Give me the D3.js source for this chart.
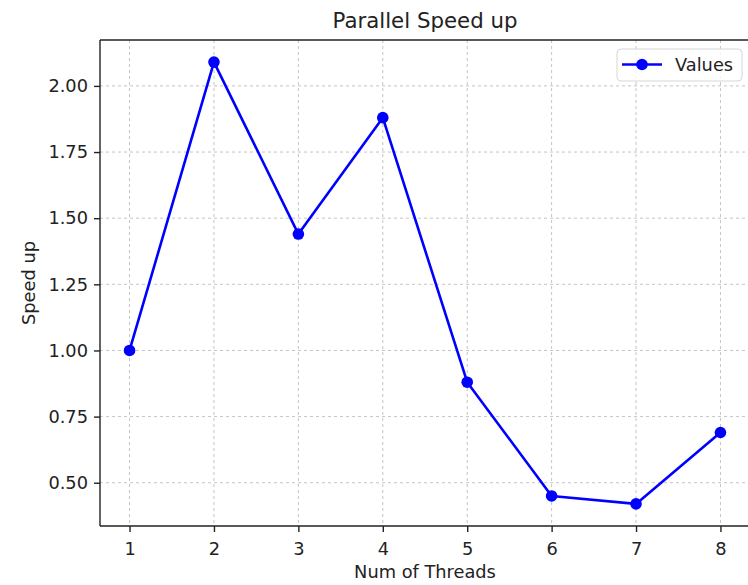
<!DOCTYPE html>
<html>
<head>
<meta charset="utf-8">
<script src="https://cdn.jsdelivr.net/npm/d3@7/dist/d3.min.js"></script>
<style>
  html, body { margin: 0; padding: 0; background: #fff; }
  svg text { font-family: "DejaVu Sans", sans-serif; fill: #222; }
</style>
</head>
<body>
<div id="chart"></div>
<script>
// data
var threads  = [1, 2, 3, 4, 5, 6, 7, 8];
var speedup  = [1.00, 2.09, 1.44, 1.88, 0.88, 0.45, 0.42, 0.69];
var yTicks   = [0.50, 0.75, 1.00, 1.25, 1.50, 1.75, 2.00];
var seriesName = 'Values';

// config
var width  = 748
  , height = 585
  , margin = { top: 40, right: -2, bottom: 59, left: 100 }
  , lineColor = '#0000ff'
  , fontSize = 17.8
;

var plotW = width - margin.left - margin.right;
var plotH = height - margin.top - margin.bottom;

// matplotlib style 5% padding
var xPad = (d3.max(threads) - d3.min(threads)) * 0.05;
var yPad = (d3.max(speedup) - d3.min(speedup)) * 0.05;

var x = d3.scaleLinear()
    .domain([d3.min(threads) - xPad, d3.max(threads) + xPad])
    .range([0, plotW]);

var y = d3.scaleLinear()
    .domain([d3.min(speedup) - yPad, d3.max(speedup) + yPad])
    .range([plotH, 0]);

var svg = d3.select('#chart').append('svg')
    .attr('width', width)
    .attr('height', height);

var g = svg.append('g')
    .attr('transform', 'translate(' + margin.left + ',' + margin.top + ')');

// grid
g.append('g').attr('class', 'grid')
  .selectAll('line.gx')
  .data(threads)
  .enter().append('line')
    .attr('x1', function (d) { return x(d); })
    .attr('x2', function (d) { return x(d); })
    .attr('y1', 0)
    .attr('y2', plotH)
    .attr('stroke', '#c4c4c4')
    .attr('stroke-width', 1)
    .attr('stroke-dasharray', '3,3');

g.append('g').attr('class', 'grid')
  .selectAll('line.gy')
  .data(yTicks)
  .enter().append('line')
    .attr('y1', function (d) { return y(d); })
    .attr('y2', function (d) { return y(d); })
    .attr('x1', 0)
    .attr('x2', plotW)
    .attr('stroke', '#c4c4c4')
    .attr('stroke-width', 1)
    .attr('stroke-dasharray', '3,3');

// axes
var xAxis = d3.axisBottom(x)
    .tickValues(threads)
    .tickFormat(d3.format('d'))
    .tickSize(6)
    .tickPadding(6);

var yAxis = d3.axisLeft(y)
    .tickValues(yTicks)
    .tickFormat(d3.format('.2f'))
    .tickSize(6)
    .tickPadding(6);

var gx = g.append('g')
    .attr('transform', 'translate(0,' + plotH + ')')
    .call(xAxis);

var gy = g.append('g').call(yAxis);

[gx, gy].forEach(function (a) {
  a.select('.domain').remove();
  a.selectAll('line').attr('stroke', '#222').attr('stroke-width', 1.4);
  a.selectAll('text')
    .attr('font-size', fontSize)
    .attr('font-family', '"DejaVu Sans", sans-serif')
    .attr('fill', '#222');
});
gx.selectAll('text').attr('dy', '0.95em');

// spines
g.append('line').attr('x1', 0).attr('x2', plotW + 10).attr('y1', 0).attr('y2', 0)
  .attr('stroke', '#222').attr('stroke-width', 1.4);
g.append('line').attr('x1', 0).attr('x2', plotW + 10).attr('y1', plotH).attr('y2', plotH)
  .attr('stroke', '#222').attr('stroke-width', 1.4);
g.append('line').attr('x1', 0).attr('x2', 0).attr('y1', 0).attr('y2', plotH)
  .attr('stroke', '#222').attr('stroke-width', 1.4);

// line + markers
var line = d3.line()
    .x(function (d, i) { return x(threads[i]); })
    .y(function (d) { return y(d); });

g.append('path')
    .datum(speedup)
    .attr('fill', 'none')
    .attr('stroke', lineColor)
    .attr('stroke-width', 2.6)
    .attr('stroke-linejoin', 'round')
    .attr('d', line);

g.selectAll('circle.pt')
    .data(speedup)
    .enter().append('circle')
    .attr('class', 'pt')
    .attr('cx', function (d, i) { return x(threads[i]); })
    .attr('cy', function (d) { return y(d); })
    .attr('r', 5.8)
    .attr('fill', lineColor);

// title and labels
svg.append('text')
    .attr('x', margin.left + plotW / 2)
    .attr('y', 28)
    .attr('text-anchor', 'middle')
    .attr('font-size', 21.3)
    .text('Parallel Speed up');

svg.append('text')
    .attr('x', margin.left + plotW / 2)
    .attr('y', 578)
    .attr('text-anchor', 'middle')
    .attr('font-size', fontSize)
    .text('Num of Threads');

svg.append('text')
    .attr('transform', 'translate(35,' + (margin.top + plotH / 2) + ') rotate(-90)')
    .attr('text-anchor', 'middle')
    .attr('font-size', fontSize)
    .text('Speed up');

// legend
var legend = svg.append('g').attr('transform', 'translate(617,49)');
legend.append('rect')
    .attr('width', 125)
    .attr('height', 32)
    .attr('rx', 4)
    .attr('fill', '#fff')
    .attr('fill-opacity', 0.8)
    .attr('stroke', '#d6d6d6')
    .attr('stroke-width', 1);
legend.append('line')
    .attr('x1', 5).attr('x2', 45)
    .attr('y1', 15.5).attr('y2', 15.5)
    .attr('stroke', lineColor)
    .attr('stroke-width', 2.6);
legend.append('circle')
    .attr('cx', 25).attr('cy', 15.5).attr('r', 5.8)
    .attr('fill', lineColor);
legend.append('text')
    .attr('x', 58)
    .attr('y', 22)
    .attr('font-size', fontSize)
    .text(seriesName);
</script>
</body>
</html>
